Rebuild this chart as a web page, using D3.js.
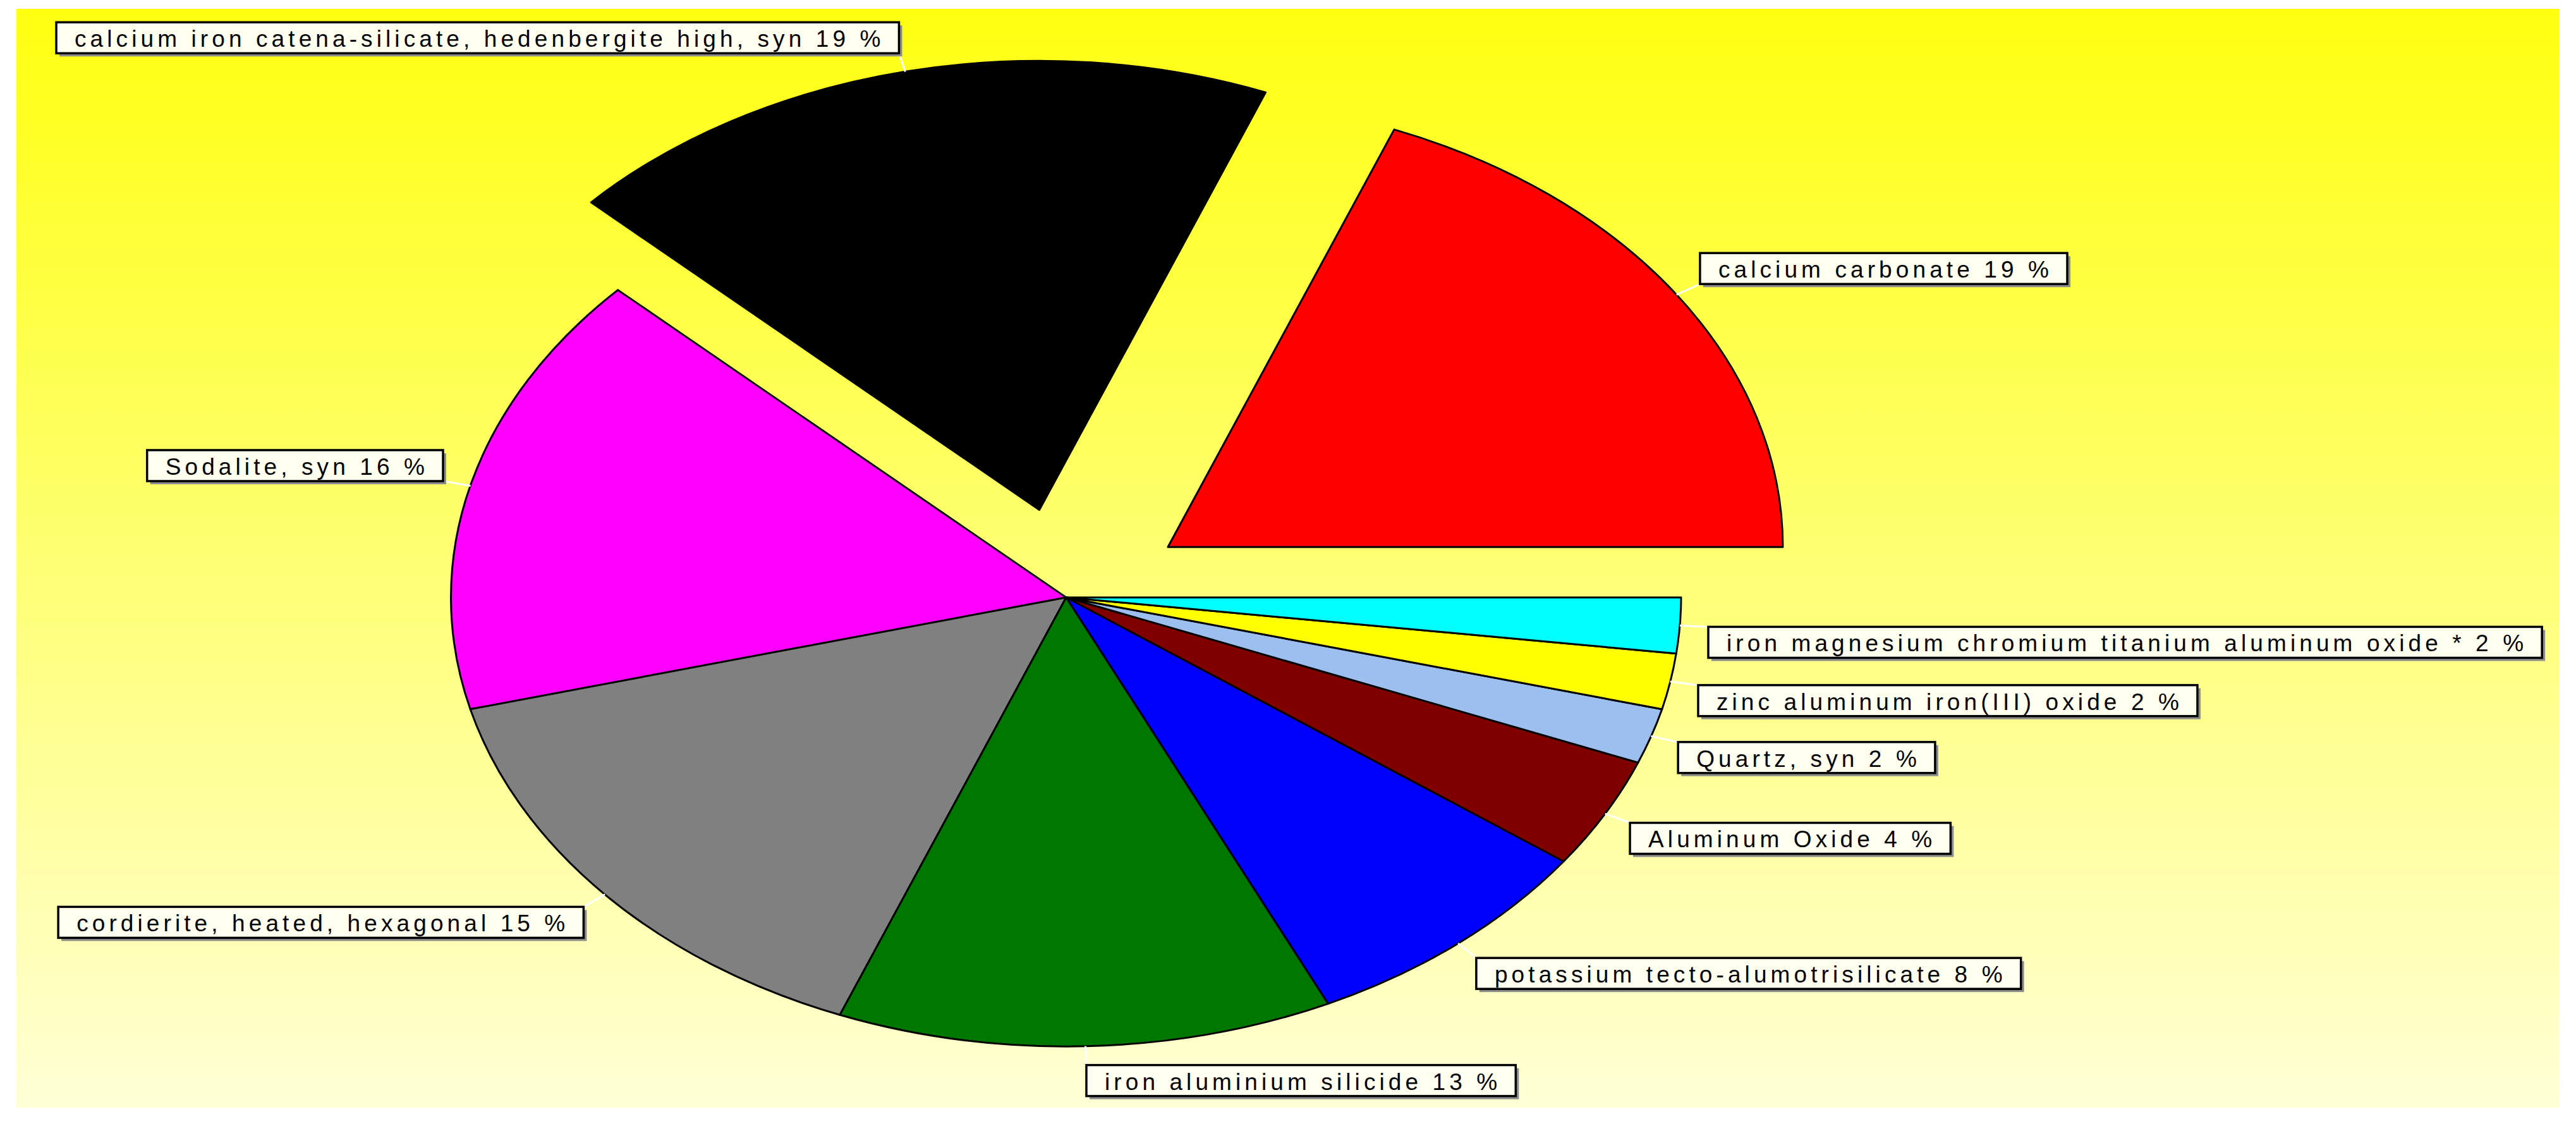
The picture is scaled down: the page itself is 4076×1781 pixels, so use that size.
<!DOCTYPE html>
<html>

<head>
    <title>Phase composition</title>
    <script src="https://cdn.jsdelivr.net/npm/d3@7"></script>
    <style>
        body { margin: 0; background: #ffffff; }
        svg { display: block; }
        .mark text { font-family: "Liberation Sans", Arial, sans-serif; font-size: 37px; letter-spacing: 6.1px; fill: #000; }
    </style>
</head>

<body>
    <div id="chart"></div>
    <script>
        // phases and their share in percent (counter-clockwise from 3 o'clock)
        const categories = [
            "calcium carbonate",
            "calcium iron catena-silicate, hedenbergite high, syn",
            "Sodalite, syn",
            "cordierite, heated, hexagonal",
            "iron aluminium silicide",
            "potassium tecto-alumotrisilicate",
            "Aluminum Oxide",
            "Quartz, syn",
            "zinc aluminum iron(III) oxide",
            "iron magnesium chromium titanium aluminum oxide *"
        ];
        const values = [19, 19, 16, 15, 13, 8, 4, 2, 2, 2];
        const colors = ["#ff0000", "#000000", "#ff00ff", "#808080", "#007800",
            "#0000ff", "#800000", "#9dbff0", "#ffff00", "#00ffff"];
        const explodedSlices = ["calcium carbonate", "calcium iron catena-silicate, hedenbergite high, syn"];

        const width = 4076, height = 1781;
        const cx = 1687, cy = 945;   // centre of the ellipse
        const rx = 973, ry = 710;    // the pie is drawn stretched
        const explode = 0.2;

        const data = categories.map((c, i) => ({ name: c, value: values[i], color: colors[i] }));

        const svg = d3.select("#chart")
            .append("svg")
            .attr("width", width)
            .attr("height", height);

        // yellow gradient panel
        const grad = svg.append("defs").append("linearGradient")
            .attr("id", "bg").attr("x1", 0).attr("y1", 0).attr("x2", 0).attr("y2", 1);
        grad.append("stop").attr("offset", "0%").attr("stop-color", "#ffff10");
        grad.append("stop").attr("offset", "100%").attr("stop-color", "#ffffd6");

        svg.append("rect")
            .attr("x", 26).attr("y", 14)
            .attr("width", 4049 - 26).attr("height", 1752 - 14)
            .attr("fill", "url(#bg)");

        // start at 3 o'clock and go counter-clockwise
        const pie = d3.pie()
            .sort(null)
            .value(d => d.value)
            .startAngle(Math.PI / 2)
            .endAngle(Math.PI / 2 - 2 * Math.PI);

        const arc = d3.arc().innerRadius(0).outerRadius(1);
        const arcs = pie(data);

        arcs.forEach(a => {
            const m = (a.startAngle + a.endAngle) / 2;
            const k = explodedSlices.includes(a.data.name) ? explode : 0;
            a.ox = k * rx * Math.sin(m);
            a.oy = -k * ry * Math.cos(m);
            a.mid = m;
        });

        // slices: unit circle scaled to the ellipse
        svg.append("g")
            .selectAll("g")
            .data(arcs)
            .enter()
            .append("g")
            .attr("transform", d => "translate(" + (cx + d.ox) + "," + (cy + d.oy) + ") scale(" + rx + "," + ry + ")")
            .append("path")
            .attr("d", arc)
            .attr("fill", d => d.data.color)
            .attr("stroke", "#000")
            .attr("stroke-width", 3)
            .attr("stroke-linejoin", "round")
            .attr("vector-effect", "non-scaling-stroke");

        // marks with leader lines
        const marks = svg.append("g").attr("class", "mark");
        arcs.forEach(a => {
            const s = Math.sin(a.mid), c = Math.cos(a.mid);
            const px = cx + a.ox + rx * s, py = cy + a.oy - ry * c;
            const ex = cx + a.ox + (rx + 45) * s, ey = cy + a.oy - (ry + 30) * c;

            marks.append("line")
                .attr("x1", px).attr("y1", py)
                .attr("x2", ex).attr("y2", ey)
                .attr("stroke", "#ffffff")
                .attr("stroke-width", 3);

            const g = marks.append("g");
            const shadow = g.append("rect").attr("fill", "#8c8c8c");
            const box = g.append("rect")
                .attr("fill", "#fffff0")
                .attr("stroke", "#000")
                .attr("stroke-width", 3.5);
            const t = g.append("text").text(a.data.name + " " + a.data.value + " %");

            const tw = t.node().getBBox().width;
            const w = tw + 52, h = 49;
            const bx = s >= 0 ? ex : ex - w;
            const by = c > 0 ? ey - h : ey;

            shadow.attr("x", bx + 5).attr("y", by + 5).attr("width", w).attr("height", h);
            box.attr("x", bx).attr("y", by).attr("width", w).attr("height", h);
            t.attr("x", bx + 29).attr("y", by + 39);
        });
    </script>
</body>

</html>
